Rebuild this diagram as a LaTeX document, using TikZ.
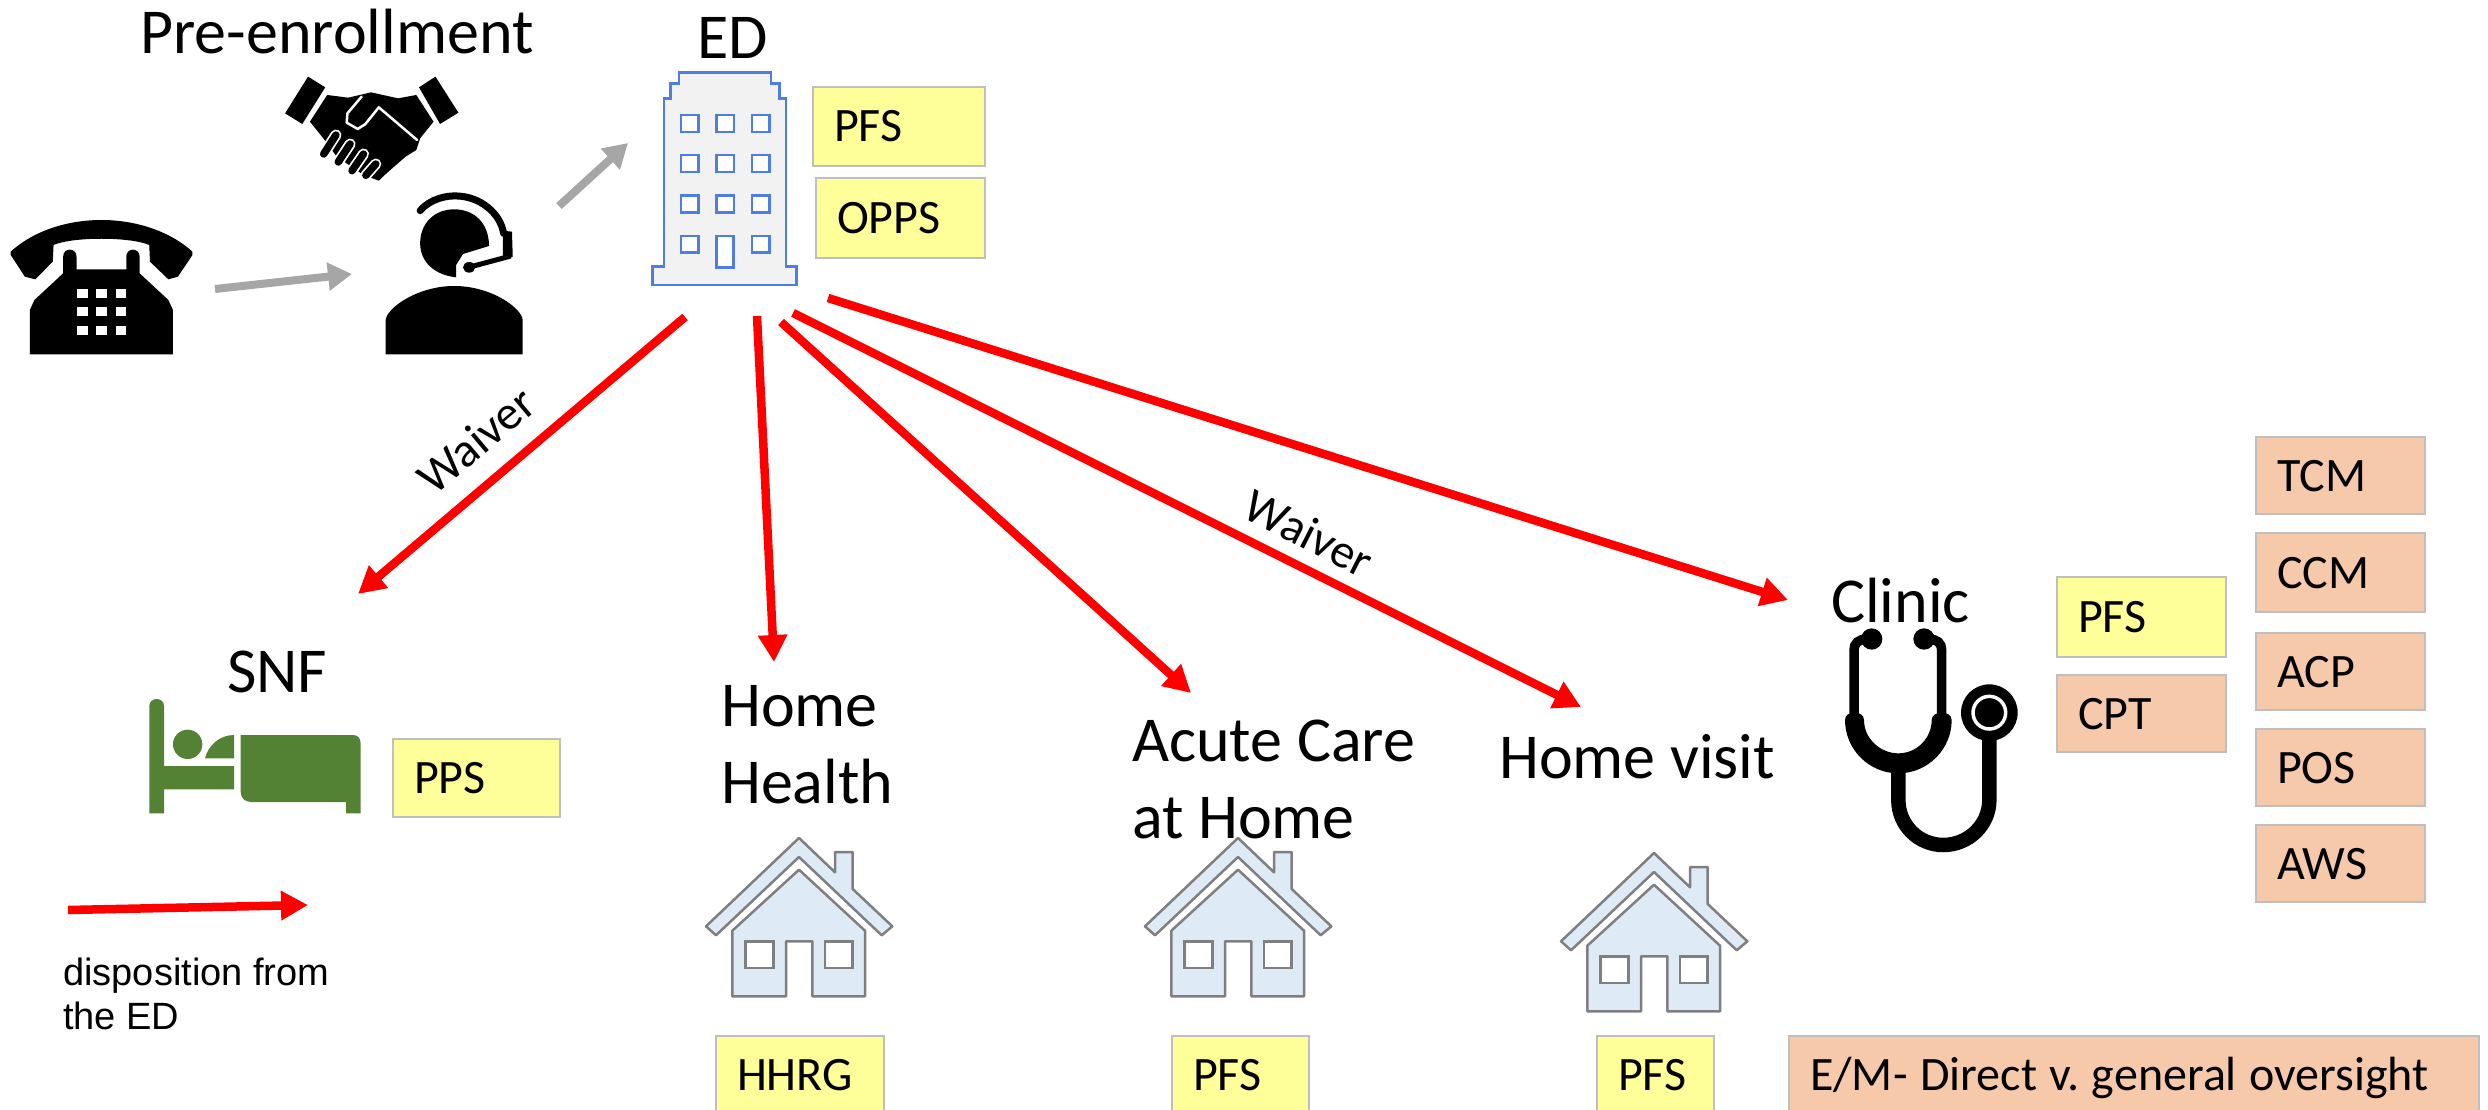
\documentclass[tikz,border=0pt]{standalone}
\usepackage{fontspec}
\setmainfont{Carlito}
\newfontfamily\arialish{Liberation Sans}
\usetikzlibrary{arrows.meta}
\definecolor{boxyellow}{HTML}{FFFF99}
\definecolor{boxsalmon}{HTML}{F6C9AA}
\definecolor{boxedge}{HTML}{BFBFBF}
\definecolor{arrowgray}{HTML}{A6A6A6}
\definecolor{bedgreen}{HTML}{548235}
\definecolor{bldgblue}{HTML}{4F7DE8}
\definecolor{bldgfill}{HTML}{F2F2F2}
\definecolor{housefill}{HTML}{DEEAF6}
\definecolor{houseedge}{HTML}{7F7F7F}
\tikzset{
  billing/.style={draw=boxedge,line width=2.5pt,inner xsep=21pt,inner ysep=0pt,align=left,
    text height=31pt,text depth=0pt,font=\frenchspacing\fontsize{48}{56}\selectfont},
  ybox/.style={billing,fill=boxyellow},
  sbox/.style={billing,fill=boxsalmon},
  title/.style={anchor=base west,inner sep=0pt,font=\fontsize{64}{77}\selectfont,align=left},
  dispo/.style={-{Triangle[length=27pt,width=28pt]},red,line width=8.5pt},
  lead/.style={-{Triangle[length=24pt,width=27pt]},arrowgray,line width=8pt},
  waiver/.style={inner sep=0pt,font=\fontsize{48}{56}\selectfont},
  iconzoom/.style={x=0.33333pt,y=-0.33333pt},
  widezoom/.style={x=0.38265pt,y=-0.33333pt},
  homeicon/.pic={
    \draw[houseedge,fill=housefill,line width=2.5pt,line join=round]
      (0,0)--(36,34.3)--(36,14)--(53.7,14)--(53.7,51)--(93.3,88.3)--(82.7,97.3)--(0,19)--(-83,97.3)--(-93,88.3)--cycle;
    \draw[houseedge,fill=housefill,line width=2.5pt,line join=round]
      (0,31.7)--(66,92.7)--(66,158.3)--(13.3,158.3)--(13.3,103.3)--(-13,103.3)--(-13,158.3)--(-66.7,158.3)--(-66.7,92.7)--cycle;
    \draw[houseedge,fill=white,line width=2.5pt] (-53.7,103.3) rectangle (-25.7,130);
    \draw[houseedge,fill=white,line width=2.5pt] (26,103.3) rectangle (53.7,130);
  }
}
\newcommand{\billbox}[7]{%
  \pgfmathsetmacro{\bw}{#5-#3}\pgfmathsetmacro{\bh}{#6-#4}%
  \pgfmathsetmacro{\bx}{(#3+#5)/2}\pgfmathsetmacro{\by}{(#4+#6)/2}%
  \pgfmathsetmacro{\bt}{#5-#3-42}%
  \node[#1,minimum width=\bw pt,minimum height=\bh pt,text width=\bt pt] (#2) at (\bx,\by) {#7};}
\begin{document}
\begin{tikzpicture}[x=1pt,y=-1pt]
\useasboundingbox (0,0) rectangle (2488,1110);
\clip (0,0) rectangle (2488,1110);

% telephone
\begin{scope}[widezoom]
  \fill[black] (28,755) .. controls (90,690) and (180,660) .. (265,660) .. controls (350,660) and (440,690) .. (503,755)
     -- (503,765) -- (465,830) -- (440,838) -- (392,785) -- (390,735) .. controls (340,710) and (190,710) .. (140,735)
     -- (138,785) -- (92,838) -- (65,830) -- (28,765) -- cycle;
  \fill[black] (165,770) .. controls (165,742) and (200,742) .. (200,770) -- (200,808) -- (330,808) -- (330,770)
     .. controls (330,742) and (365,742) .. (365,770) -- (365,820) -- (440,900) -- (452,930) -- (452,1063) -- (78,1063) -- (78,930) -- (90,900) -- (165,820) -- cycle;
  \foreach \kx in {202,252,303}\foreach \ky in {866,921,977}
    \fill[white] (\kx,\ky) rectangle (\kx+27,\ky+28);
\end{scope}

% headset agent
\begin{scope}[widezoom]
  \fill[black] (1192,832) .. controls (1135,825) and (1098,785) .. (1098,730) .. controls (1098,670) and (1135,628) .. (1187,628)
     .. controls (1240,628) and (1278,670) .. (1278,738) -- (1210,762) -- (1192,795) -- cycle;
  \draw[black,line width=7pt,line cap=round] (1098,632) .. controls (1125,595) and (1170,586) .. (1195,588) .. controls (1255,590) and (1308,640) .. (1316,700);
  \fill[black] (1314,692) -- (1338,695) -- (1340,770) -- (1314,778) -- cycle;
  \draw[black,line width=5pt] (1335,768) -- (1225,802);
  \fill[black] (1226,802) circle[radius=16];
  \fill[black] (1008,1063) -- (1008,960) .. controls (1010,925) and (1090,858) .. (1187,858) .. controls (1285,858) and (1364,925) .. (1366,960) -- (1366,1063) -- cycle;
\end{scope}

% handshake
\begin{scope}[widezoom,line cap=round,line join=round]
  \fill[black] (805,230) -- (850,262) -- (790,372) -- (745,340) -- cycle;
  \fill[black] (1138,230) -- (1198,338) -- (1150,372) -- (1095,262) -- cycle;
  \fill[black] (855,285) -- (910,293) -- (970,277) -- (1040,295) -- (1088,285) -- (1133,365) -- (1098,415) -- (1088,450) -- (1060,470) -- (1035,495) -- (1010,520) -- (990,542) -- (950,525) -- (880,470) -- (845,415) -- (810,365) -- cycle;
  \draw[white,line width=2.5pt] (945,290) -- (908,340) -- (906,368) -- (935,387) -- (955,372) -- (990,322) -- (1090,420);
  \foreach \fa/\fb/\fc/\fd in {878/405/846/462,915/432/884/486,950/462/920/512,982/492/956/526}{
    \draw[white,line width=11pt] (\fa,\fb) -- (\fc,\fd);
    \draw[black,line width=7.5pt] (\fa,\fb) -- (\fc,\fd);
  }
\end{scope}

% building
\begin{scope}[xshift=600pt,iconzoom]
  \draw[bldgblue,fill=bldgfill,line width=2.5pt]
    (158,855)--(158,800)--(192,800)--(192,295)--(212,295)--(212,250)--(237,250)--(237,217)--(513,217)--(513,250)--(538,250)--(538,295)--(558,295)--(558,800)--(590,800)--(590,855)--cycle;
  \foreach \wx in {243,350,456}\foreach \wy in {345,465,586}
    \draw[bldgblue,fill=white,line width=2.5pt] (\wx,\wy) rectangle (\wx+52,\wy+51);
  \draw[bldgblue,fill=white,line width=2.5pt] (243,708) rectangle (295,758);
  \draw[bldgblue,fill=white,line width=2.5pt] (456,708) rectangle (508,758);
  \draw[bldgblue,fill=white,line width=2.5pt] (350,708) rectangle (400,803);
\end{scope}

% bed
\begin{scope}[xshift=100pt,yshift=-620pt,iconzoom,bedgreen]
  \fill (148,580) -- (148,258) .. controls (148,230) and (192,230) .. (192,258) -- (192,438) -- (402,438) -- (402,508) -- (192,508) -- (192,580) -- cycle;
  \fill (263,373) circle[radius=44];
  \fill (315,415) .. controls (325,375) and (360,345) .. (402,345) -- (402,415) -- cycle;
  \fill (422,345) -- (758,345) .. controls (775,345) and (782,355) .. (782,372) -- (782,580) -- (738,580) -- (738,546) -- (455,546) .. controls (435,546) and (422,535) .. (422,515) -- cycle;
\end{scope}

% houses
\pic at (799,838) {homeicon};
\pic at (1238,838) {homeicon};
\pic at (1654,853) {homeicon};

% stethoscope
\begin{scope}[xshift=1780pt,yshift=-570pt,iconzoom]
  \draw[black,line width=9.5pt] (262,207) .. controls (235,207) and (222,220) .. (222,240) -- (222,445);
  \draw[black,line width=9.5pt] (445,207) .. controls (472,207) and (485,220) .. (485,240) -- (485,445);
  \fill[black] (275,207) circle[radius=32];
  \fill[black] (432,207) circle[radius=32];
  \fill[black] (195,450) .. controls (195,538) and (267,610) .. (355,610) .. controls (443,610) and (515,538) .. (515,450)
     .. controls (515,435) and (500,428) .. (485,428) .. controls (470,428) and (455,435) .. (455,450)
     .. controls (455,505) and (410,550) .. (355,550) .. controls (300,550) and (252,505) .. (252,450)
     .. controls (252,435) and (238,428) .. (224,428) .. controls (208,428) and (195,435) .. (195,450) -- cycle;
  \draw[black,line width=14.5pt] (355,600) -- (355,690) .. controls (355,765) and (415,825) .. (490,825) .. controls (565,825) and (628,765) .. (628,690) -- (628,490);
  \fill[black] (628,428) circle[radius=85];
  \draw[white,line width=3.5pt] (628,428) circle[radius=49];
\end{scope}

% titles (a two-line node is placed by the baseline of its last line)
\node[title] (tPre) at (140,54) {Pre-enrollment};
\node[title] (tED) at (697,59) {ED};
\node[title] (tSNF) at (227,692) {SNF};
\node[title] (tHH) at (721,803) {Home\\Health};
\node[title] (tACH) at (1132,838) {Acute Care\\at Home};
\node[title] (tHV) at (1499,778) {Home visit};
\node[title] (tClinic) at (1831,622) {Clinic};

% billing boxes
\billbox{ybox}{bPFSed}{813}{87}{985}{166}{PFS}
\billbox{ybox}{bOPPS}{816}{178}{985}{258}{OPPS}
\billbox{ybox}{bPPS}{393}{739}{560}{817}{PPS}
\billbox{ybox}{bHHRG}{716}{1036}{884}{1114}{HHRG}
\billbox{ybox}{bPFSac}{1172}{1036}{1309}{1114}{PFS}
\billbox{ybox}{bPFShv}{1597}{1036}{1714}{1114}{PFS}
\billbox{sbox}{bEM}{1789}{1036}{2479}{1114}{\spaceskip=12.5pt E/M- Direct v. general oversight}
\billbox{ybox}{bPFScl}{2057}{577}{2226}{657}{PFS}
\billbox{sbox}{bCPT}{2057}{675}{2226}{752}{CPT}
\billbox{sbox}{bTCM}{2256}{437}{2425}{514}{TCM}
\billbox{sbox}{bCCM}{2256}{533}{2425}{612}{CCM}
\billbox{sbox}{bACP}{2256}{633}{2425}{710}{ACP}
\billbox{sbox}{bPOS}{2256}{729}{2425}{806}{POS}
\billbox{sbox}{bAWS}{2256}{825}{2425}{902}{AWS}

% connector ends
\coordinate (phoneOut) at (215,289);
\coordinate (agentIn) at (352,274);
\coordinate (agentOut) at (559,206);
\coordinate (edIn) at (628,143);
\coordinate (edSNF) at (685,317);
\coordinate (snfIn) at (358,594);
\coordinate (edHH) at (757,316);
\coordinate (hhIn) at (774,662);
\coordinate (edAC) at (781,322);
\coordinate (acIn) at (1191,693);
\coordinate (edHV) at (793,313);
\coordinate (hvIn) at (1581,707);
\coordinate (edCl) at (828,298);
\coordinate (clIn) at (1788,600);
\coordinate (keyFrom) at (68,910);
\coordinate (keyTo) at (308,905);

\draw[lead] (phoneOut) -- (agentIn);
\draw[lead] (agentOut) -- (edIn);
\draw[dispo] (edSNF) -- (snfIn);
\draw[dispo] (edHH) -- (hhIn);
\draw[dispo] (edAC) -- (acIn);
\draw[dispo] (edHV) -- (hvIn);
\draw[dispo] (edCl) -- (clIn);
\draw[dispo] (keyFrom) -- (keyTo);

\node[waiver,rotate=40] (w1) at (476,440) {Waiver};
\node[waiver,rotate=-27] (w2) at (1309,533) {Waiver};
\node[anchor=base west,inner sep=0pt,align=left,font=\arialish\fontsize{38}{44}\selectfont] (key) at (63,1029) {disposition from\\the ED};
\end{tikzpicture}
\end{document}
